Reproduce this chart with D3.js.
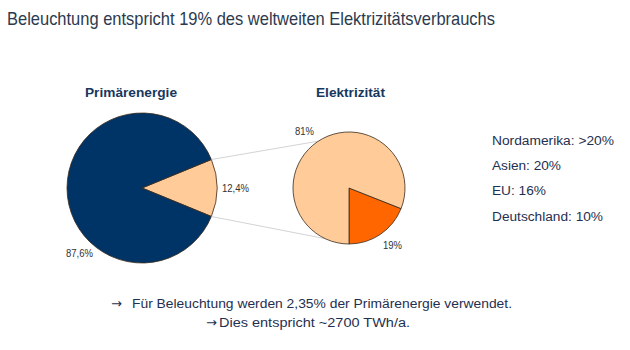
<!DOCTYPE html>
<html>
<head>
<meta charset="utf-8">
<script src="https://cdn.jsdelivr.net/npm/d3@7"></script>
<style>
  body { margin: 0; background: #fff; }
  svg text { font-family: "Liberation Sans", Arial, sans-serif; }
</style>
</head>
<body>
<div id="chart"></div>
<script>
(function () {
  /* ----------------------- Data ----------------------- */
  const primaryLabels = ["Beleuchtung", "Sonstiges"];
  const primaryValues = [12.4, 87.6];
  const primaryText = ["12,4%", "87,6%"];

  const elecLabels = ["Beleuchtung", "Sonstiges"];
  const elecValues = [19, 81];
  const elecText = ["19%", "81%"];

  const regionNotes = ["Nordamerika: >20%", "Asien: 20%", "EU: 16%", "Deutschland: 10%"];
  const footNotes = [
    "Für Beleuchtung werden 2,35% der Primärenergie verwendet.",
    "Dies entspricht ~2700 TWh/a."
  ];

  /* ----------------------- Layout ----------------------- */
  const width = 630, height = 350;
  const noteWidths = [122, 69, 54, 111];
  const footLayout = [
    { arrowX: 111, x: 132, y: 308, w: 380 },
    { arrowX: 206, x: 219, y: 327, w: 191 }
  ];

  const svg = d3.select("#chart").append("svg")
    .attr("width", width).attr("height", height);

  // Title
  svg.append("text")
    .attr("x", 7).attr("y", 25)
    .attr("font-size", 19)
    .attr("fill", "#2b3a4f")
    .attr("textLength", 488).attr("lengthAdjust", "spacingAndGlyphs")
    .text("Beleuchtung entspricht 19% des weltweiten Elektrizitätsverbrauchs");

  /* ----------------------- Left pie ----------------------- */
  const leftC = { x: 142, y: 188 }, leftR = 75;
  const half = Math.PI * primaryValues[0] / 100;
  const pieLeft = d3.pie().sort(null)
    .startAngle(Math.PI / 2 - half)
    .endAngle(Math.PI / 2 - half + 2 * Math.PI);
  const arcLeft = d3.arc().innerRadius(0).outerRadius(leftR);
  const colorLeft = d3.scaleOrdinal().domain(primaryLabels).range(["#ffcc99", "#003366"]);

  const gL = svg.append("g").attr("transform", `translate(${leftC.x},${leftC.y})`);
  const arcsL = pieLeft(primaryValues);
  gL.selectAll("path").data(arcsL).enter().append("path")
    .attr("d", arcLeft)
    .attr("fill", (d, i) => colorLeft(primaryLabels[i]))
    .attr("stroke", "#3a2a1a").attr("stroke-width", 0.8);

  /* ----------------------- Right pie ----------------------- */
  const rightC = { x: 349, y: 188 }, rightR = 56;
  const pieRight = d3.pie().sort(null)
    .startAngle(Math.PI - 2 * Math.PI * elecValues[0] / 100)
    .endAngle(3 * Math.PI - 2 * Math.PI * elecValues[0] / 100);
  const arcRight = d3.arc().innerRadius(0).outerRadius(rightR);
  const colorRight = d3.scaleOrdinal().domain(elecLabels).range(["#ff6600", "#ffcc99"]);

  // connector lines from the small slice to the right pie
  const sl = arcsL[0];
  const pt = (c, r, a) => [c.x + r * Math.sin(a), c.y - r * Math.cos(a)];
  const p1 = pt(leftC, leftR, sl.startAngle), p2 = pt(leftC, leftR, sl.endAngle);
  const q1 = pt(rightC, rightR, -0.58), q2 = pt(rightC, rightR, Math.PI + 0.44);
  svg.append("line").attr("x1", p1[0]).attr("y1", p1[1]).attr("x2", q1[0]).attr("y2", q1[1])
    .attr("stroke", "#c8c8c8").attr("stroke-width", 0.8);
  svg.append("line").attr("x1", p2[0]).attr("y1", p2[1]).attr("x2", q2[0]).attr("y2", q2[1])
    .attr("stroke", "#c8c8c8").attr("stroke-width", 0.8);

  const gR = svg.append("g").attr("transform", `translate(${rightC.x},${rightC.y})`);
  gR.selectAll("path").data(pieRight(elecValues)).enter().append("path")
    .attr("d", arcRight)
    .attr("fill", (d, i) => colorRight(elecLabels[i]))
    .attr("stroke", "#3a2a1a").attr("stroke-width", 0.8);

  /* ----------------------- Labels ----------------------- */
  const lab = (x, y, t, w) => svg.append("text").attr("x", x).attr("y", y)
    .attr("font-size", 10).attr("fill", "#333")
    .attr("textLength", w).attr("lengthAdjust", "spacingAndGlyphs").text(t);
  lab(222, 192, primaryText[0], 27);
  lab(66, 257, primaryText[1], 27);
  lab(383, 249, elecText[0], 19);
  lab(295, 135, elecText[1], 19);

  const head = (x, t, w) => svg.append("text").attr("x", x).attr("y", 97)
    .attr("font-size", 13).attr("font-weight", "bold")
    .attr("fill", "#17375e")
    .attr("textLength", w).attr("lengthAdjust", "spacingAndGlyphs").text(t);
  head(85, "Primärenergie", 92);
  head(316, "Elektrizität", 69);

  svg.selectAll(".note").data(regionNotes).enter().append("text")
    .attr("class", "note")
    .attr("x", 492).attr("y", (d, i) => 145 + i * 25.2)
    .attr("font-size", 12.5).attr("fill", "#1f3050")
    .attr("textLength", (d, i) => noteWidths[i]).attr("lengthAdjust", "spacingAndGlyphs")
    .text(d => d);

  footNotes.forEach((t, i) => {
    const f = footLayout[i];
    svg.append("text").attr("x", f.arrowX).attr("y", f.y)
      .attr("font-size", 13).attr("fill", "#1f3050")
      .style("font-family", "'DejaVu Sans', sans-serif")
      .text("\u2192");
    svg.append("text").attr("x", f.x).attr("y", f.y)
      .attr("font-size", 12.5).attr("fill", "#1f3050")
      .attr("textLength", f.w).attr("lengthAdjust", "spacingAndGlyphs")
      .text(t);
  });
})();
</script>
</body>
</html>
